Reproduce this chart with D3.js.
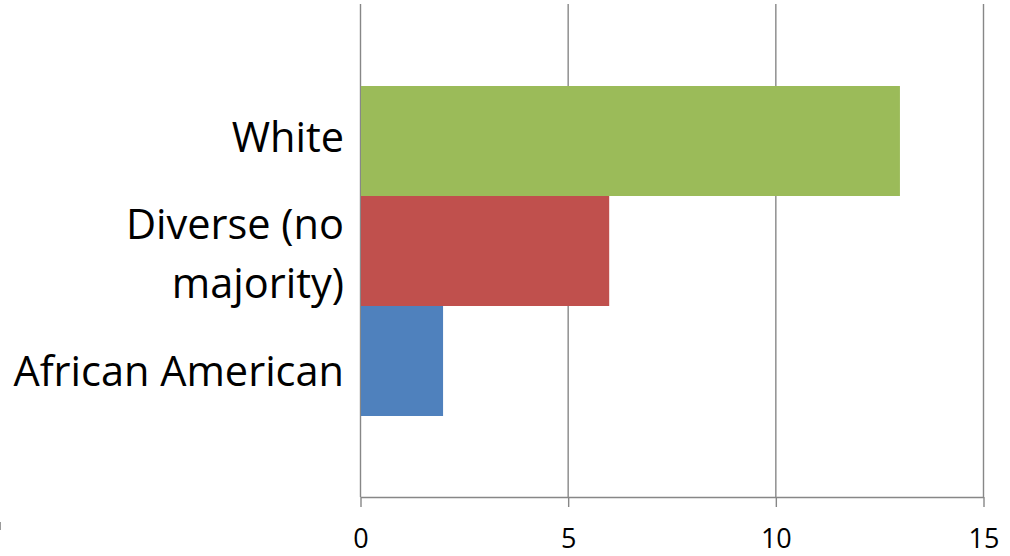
<!DOCTYPE html>
<html>
<head>
<meta charset="utf-8">
<script src="https://cdn.jsdelivr.net/npm/d3@7/dist/d3.min.js"></script>
<style>
  html, body { margin: 0; padding: 0; background: #fff; }
  svg { display: block; }
  text { font-family: "Open Sans", "Liberation Sans", sans-serif; fill: #000; }
</style>
</head>
<body>
<svg id="chart" width="1010" height="556"></svg>
<script>
// Categories, top to bottom, with their counts
const categories = ["White", "Diverse (no majority)", "African American"];
const labelLines = [["White"], ["Diverse (no", "majority)"], ["African American"]];
const values = [13, 6, 2];
const colors = ["#9BBB59", "#C0504D", "#4F81BD"];
const xTicks = [0, 5, 10, 15];

const svg = d3.select("#chart");

const plot = { left: 360, right: 983, top: 4, bottom: 497 };

const x = d3.scaleLinear().domain([0, 15]).range([plot.left, plot.right]);
const y = d3.scaleBand().domain(categories).range([86, 416]).paddingInner(0).paddingOuter(0);
// Label anchor positions (cap-height centres) for the category names
const yLabel = d3.scalePoint().domain(categories).range([137, 371]);

// Vertical gridlines
svg.append("g")
  .selectAll("line")
  .data(xTicks)
  .join("line")
  .attr("x1", d => x(d) + 0.5)
  .attr("x2", d => x(d) + 0.5)
  .attr("y1", plot.top)
  .attr("y2", plot.bottom)
  .attr("stroke", "#878787")
  .attr("stroke-width", 1.4);

// Bars
svg.append("g")
  .selectAll("rect")
  .data(categories)
  .join("rect")
  .attr("x", x(0) + 1)
  .attr("y", d => y(d))
  .attr("width", (d, i) => x(values[i]) - x(0) - 1)
  .attr("height", y.bandwidth())
  .attr("fill", (d, i) => colors[i]);

// Bottom axis
const xAxis = d3.axisBottom(x).tickValues(xTicks).tickSize(10).tickPadding(22).tickSizeOuter(0);
const gx = svg.append("g")
  .attr("transform", `translate(0.5,${plot.bottom})`)
  .call(xAxis);
gx.select(".domain").attr("stroke", "#878787").attr("stroke-width", 1.4);
gx.selectAll(".tick line").attr("stroke", "#878787").attr("stroke-width", 1.4);
gx.selectAll(".tick text")
  .attr("font-size", 27)
  .attr("font-family", "'Open Sans', 'Liberation Sans', sans-serif")
  .attr("fill", "#000")
  .attr("dy", "0.71em");

// Category labels, right-aligned against the value axis
const labelSize = 41.5;
const lineGap = 59;
const lg = svg.append("g");
categories.forEach((c, i) => {
  const lines = labelLines[i];
  const center = yLabel(c);
  const first = center - (lines.length - 1) * lineGap / 2;
  lines.forEach((t, j) => {
    lg.append("text")
      .attr("x", plot.left - 16)
      .attr("y", first + j * lineGap)
      .attr("dy", "0.357em")
      .attr("text-anchor", "end")
      .attr("font-size", labelSize)
      .text(t);
  });
});

// Thin mark at the left edge
svg.append("line")
  .attr("x1", 0.5).attr("x2", 0.5)
  .attr("y1", 522).attr("y2", 530)
  .attr("stroke", "#9a9a9a").attr("stroke-width", 1);
</script>
</body>
</html>
